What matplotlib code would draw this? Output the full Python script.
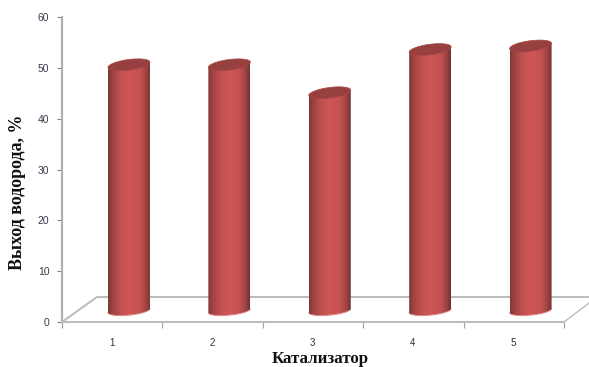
#! /usr/bin/env python

"""
  Hydrogen yield per catalyst, drawn as pseudo 3D cylinders
"""

import numpy as np
import matplotlib
matplotlib.use('Agg')
import matplotlib.pyplot as plt
from matplotlib.colors import LinearSegmentedColormap
from matplotlib.patches import Polygon

W, H = 589, 367

catalysts = [1, 2, 3, 4, 5]
hydrogen_yield = [48.3, 48.3, 42.8, 51.3, 52]
y_ticks = [0, 10, 20, 30, 40, 50, 60]
x_label = 'Катализатор'
y_label = 'Выход водорода, %'

# plot area in pixels
left, right, bottom, top = 62, 564, 322, 17
px_x = 5.0 / (right - left)
px_y = 60.0 / (bottom - top)

shade = LinearSegmentedColormap.from_list('cyl', [
    (0.0, '#813837'), (0.12, '#a14544'), (0.32, '#c45251'), (0.5, '#cf5656'),
    (0.75, '#c45150'), (0.9, '#9c4342'), (1.0, '#723130')])


def ring(cx, cy, a, b, k):
  t = np.linspace(0, 2 * np.pi, 80)
  return cx + a * np.cos(t), cy + b * np.sin(t) + k * np.cos(t)


def cylinder(ax, x, value):
  a = 21 * px_x
  b = 4.5 * px_y
  k = 2.0 * px_y
  cx = x + 0.167
  base = 2.3
  cy = base + value

  # body outline: lower half of the base ring, upper half of the top ring
  t = np.linspace(np.pi, 2 * np.pi, 50)
  xs = cx + a * np.cos(t)
  low = base + b * np.sin(t) + k * np.cos(t)
  up = cy + k * np.cos(t)
  body = Polygon(np.vstack([np.column_stack([xs, low]),
                            np.column_stack([xs[::-1], up[::-1]])]),
                 closed=True, fc='none', ec='none')
  ax.add_patch(body)
  grad = np.linspace(0, 1, 128).reshape(1, -1)
  im = ax.imshow(grad, cmap=shade, aspect='auto', zorder=3,
                 extent=[cx - a, cx + a, base - 2, cy + 2])
  im.set_clip_path(body)

  # pale rim under the base
  ax.plot(xs, low - 0.08, color='#dd7f7d', lw=0.6, zorder=2, clip_on=False)

  rx, ry = ring(cx, cy, a, 5.3 * px_y, 2.6 * px_y)
  ax.fill(rx, ry, color='#98403f', ec='#a54847', lw=0.5, zorder=4)


def main():
  fig = plt.figure(figsize=(W / 100, H / 100), dpi=100)
  ax = fig.add_axes([left / W, 1 - bottom / H, (right - left) / W, (bottom - top) / H])

  # floor of the chart
  fx = lambda p: 0.5 + (p - left) * px_x
  fy = lambda p: (bottom - p) * px_y
  floor_col = '#bdbdbd'
  ax.plot([fx(62), fx(97), fx(589)], [fy(322), fy(297), fy(297)],
          color=floor_col, lw=1.5, clip_on=False, zorder=1)
  ax.plot([fx(564), fx(589)], [fy(322), fy(303)], color=floor_col, lw=1.0,
          clip_on=False, zorder=1)

  for x, v in zip(catalysts, hydrogen_yield):
    cylinder(ax, x, v)

  ax.set_xlim(0.5, 5.5)
  ax.set_ylim(0, 60)
  for s in ['top', 'right']:
    ax.spines[s].set_visible(False)
  ax.spines['left'].set_color('#b0b0b0')
  ax.spines['left'].set_linewidth(1.6)
  ax.spines['bottom'].set_color(floor_col)
  ax.spines['bottom'].set_linewidth(1.5)

  ax.set_xticks(np.arange(0.5, 6.0, 1.0))
  ax.set_xticklabels([])
  ax.set_yticks(y_ticks)
  ax.tick_params(axis='x', length=4, width=0.8, color='#a0a0a0')
  ax.tick_params(axis='y', length=3.5, width=0.8, color='#808080', pad=5.5,
                 labelsize=7.5, labelcolor='#3a3a4a')
  for label in ax.get_yticklabels():
    label.set_family('Liberation Sans')

  for x in catalysts:
    ax.text(x - 0.005, fy(343), str(x), ha='center', va='center', fontsize=7,
            family='Liberation Sans', color='#2e2e3e', clip_on=False)

  fig.text(320 / W, 1 - 363 / H, x_label, ha='center', va='baseline', fontsize=12.2,
           fontweight='bold', family='Liberation Serif', color='#111111')
  fig.text(18 / W, 1 - 192.5 / H, y_label, ha='center', va='center', rotation=90,
           fontsize=13, fontweight='bold', family='Liberation Serif', color='#111111')

  ax.set_xlim(0.5, 5.5)
  ax.set_ylim(0, 60)
  plt.savefig('out.png', dpi=100)
  plt.close()


if __name__ == "__main__":
  main()
